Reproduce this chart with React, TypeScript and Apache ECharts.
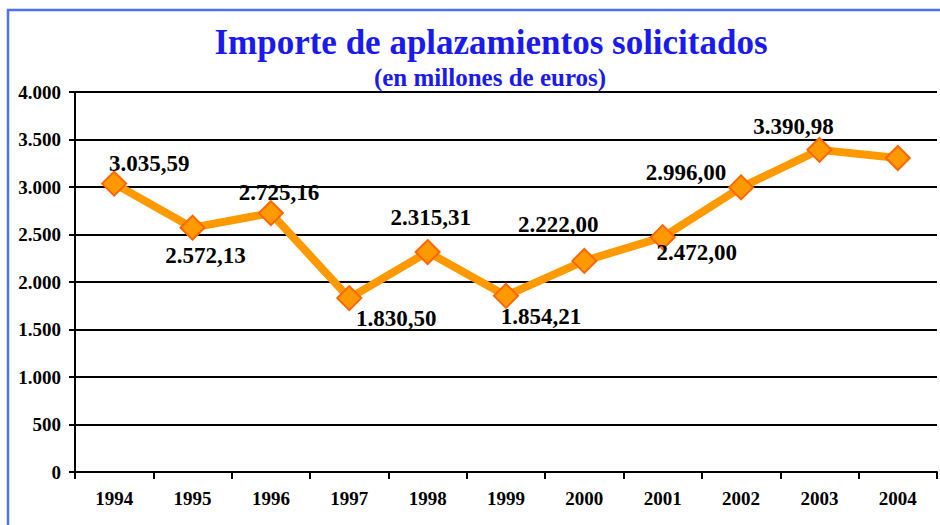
import React, { useEffect, useRef } from "react";
import * as echarts from "echarts";

const years = ["1994", "1995", "1996", "1997", "1998", "1999", "2000", "2001", "2002", "2003", "2004"];
const values = [3035.59, 2572.13, 2725.16, 1830.5, 2315.31, 1854.21, 2222.0, 2472.0, 2996.0, 3390.98, 3305];
const showLabel = [true, true, true, true, true, true, true, true, true, true, false];
const labelOffsets: [number, number][] = [
  [35, -20], [13, 28], [8, -21], [47, 20], [3, -35], [35, 21], [-26, -36], [34, 15], [-55, -15], [-26, -23], [0, 0],
];

const fmtThousands = (v: number) => {
  const s = Math.round(v).toString();
  return s.replace(/\B(?=(\d{3})+(?!\d))/g, ".");
};
const fmtValue = (v: number) => {
  const [i, d] = v.toFixed(2).split(".");
  return fmtThousands(Number(i)) + "," + d;
};

const FONT = "'Liberation Serif', 'Times New Roman', serif";
const BLUE = "#1a1aee";

export default function App() {
  const ref = useRef<HTMLDivElement>(null);
  useEffect(() => {
    if (!ref.current) return;
    const chart = echarts.init(ref.current, null, { renderer: "svg" });
    chart.setOption({
      animation: false,
      backgroundColor: "#fff",
      title: [
        {
          text: "Importe de aplazamientos solicitados",
          left: 486,
          textAlign: "center",
          top: 20,
          textStyle: { fontFamily: FONT, fontSize: 35, fontWeight: "bold", color: BLUE },
        },
        {
          text: "(en millones de euros)",
          left: 485,
          textAlign: "center",
          top: 60,
          textStyle: { fontFamily: FONT, fontSize: 25, fontWeight: "bold", color: BLUE },
        },
      ],
      graphic: [
        {
          type: "polyline",
          shape: { points: [[8, 525], [8, 10], [940, 10]] },
          style: { stroke: "#4f6ff5", lineWidth: 2.5, fill: "none" },
          silent: true,
        },
      ],
      grid: { left: 75, right: 3, top: 92, bottom: 53 },
      xAxis: {
        type: "category",
        data: years,
        boundaryGap: true,
        axisLine: { lineStyle: { color: "#000", width: 2 } },
        axisTick: { show: true, length: 7, lineStyle: { color: "#000", width: 2 }, alignWithLabel: false },
        axisLabel: { fontFamily: FONT, fontSize: 19, fontWeight: "bold", color: "#000", margin: 17 },
      },
      yAxis: {
        type: "value",
        min: 0,
        max: 4000,
        interval: 500,
        axisLine: { show: true, lineStyle: { color: "#000", width: 2 } },
        axisTick: { show: true, length: 6, lineStyle: { color: "#000", width: 2 } },
        splitLine: { lineStyle: { color: "#000", width: 2 } },
        axisLabel: {
          fontFamily: FONT, fontSize: 19, fontWeight: "bold", color: "#000", margin: 14,
          formatter: (v: number) => fmtThousands(v),
        },
      },
      series: [
        {
          type: "line",
          data: values.map((v, i) => ({
            value: v,
            label: {
              show: showLabel[i],
              position: "inside",
              offset: labelOffsets[i],
              formatter: () => fmtValue(v),
            },
          })),
          symbol: "diamond",
          symbolSize: 24,
          lineStyle: { color: "#ff9900", width: 8 },
          itemStyle: { color: "#ff9900", borderColor: "#ff6600", borderWidth: 2 },
          label: { fontFamily: FONT, fontSize: 23, fontWeight: "bold", color: "#000" },
          z: 3,
        },
      ],
    });
    return () => chart.dispose();
  }, []);
  return <div ref={ref} style={{ position: "fixed", left: 0, top: 0, width: 940, height: 525 }} />;
}
